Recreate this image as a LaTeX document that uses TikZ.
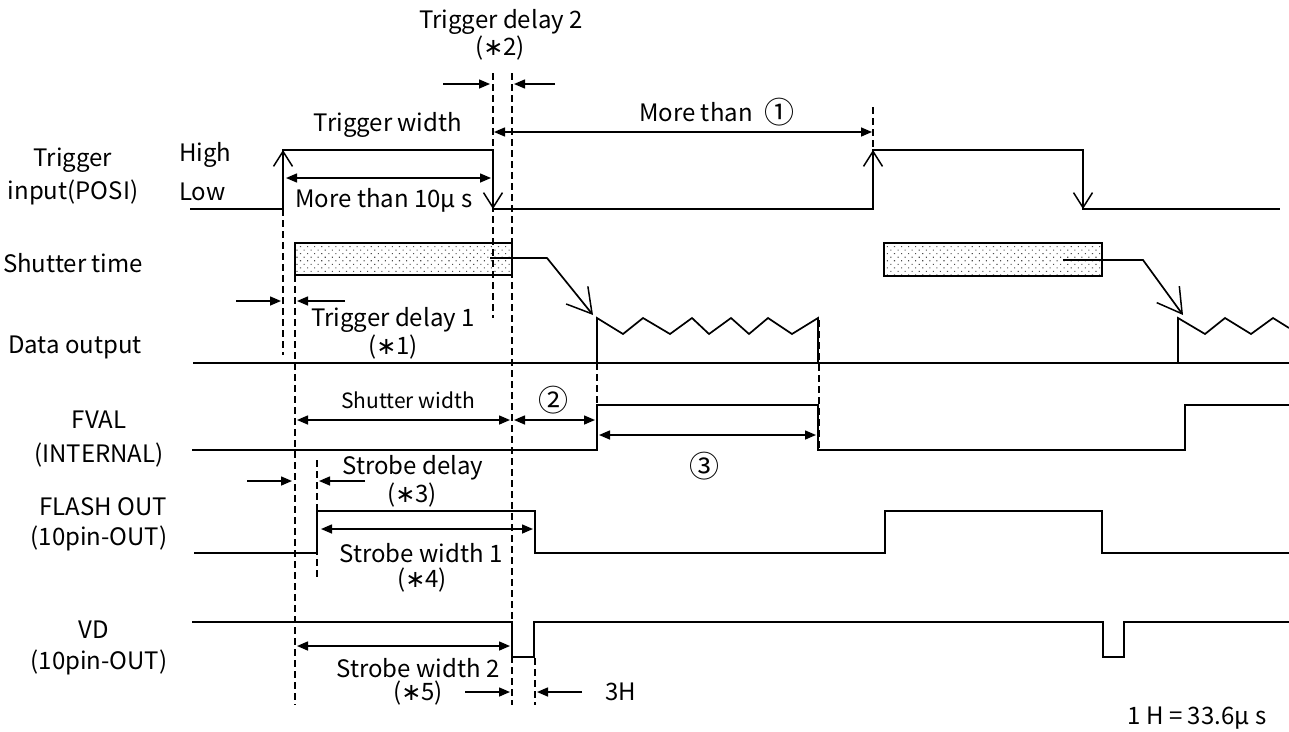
\documentclass[tikz,border=0pt]{standalone}
\usepackage{fontspec}
\setmainfont{Noto Sans CJK JP}
\newfontfamily\djv{DejaVu Sans}
\usetikzlibrary{arrows.meta,patterns.meta}
\newcommand{\stx}{{\djv ∗}}
\newcommand{\cnum}[1]{\raisebox{-0.08em}{\scalebox{1.25}{#1}}}
\begin{document}
\begin{tikzpicture}[x=1pt,y=-1pt,
  every node/.style={font=\fontsize{24}{28}\selectfont, inner sep=0pt},
  small/.style={font=\fontsize{21}{24}\selectfont},
  sig/.style={line width=1.7pt, line join=miter},
  edge/.style={line width=1.7pt, -{Straight Barb[length=15pt,width=19pt,line width=1.5pt]}},
  bigarr/.style={line width=1.7pt, -{Straight Barb[length=24pt,width=28pt,line width=1.5pt]}},
  dim/.style={line width=1.5pt, {Triangle[length=11pt,width=9pt]}-{Triangle[length=11pt,width=9pt]}},
  onearr/.style={line width=1.5pt, -{Triangle[length=11pt,width=9pt]}},
  dsh/.style={line width=1.5pt, dash pattern=on 7pt off 4pt},
  shut/.style={line width=1.7pt, pattern={Dots[distance=5pt,angle=45,radius=0.75pt]}, pattern color=black!70}
]
\useasboundingbox (0,0) rectangle (1289,731);

% ---------- dashed reference lines ----------
\draw[dsh] (283,209) -- (283,355);
\draw[dsh] (295,275) -- (295,705);
\draw[dsh] (317,460) -- (317,580);
\draw[dsh] (493,73) -- (493,318);
\draw[dsh] (512,73) -- (512,705);
\draw[dsh] (535,658) -- (535,705);
\draw[dsh] (597,363) -- (597,405);
\draw[dsh] (819,320) -- (819,450);
\draw[dsh] (873,107) -- (873,150);

% ---------- row labels ----------
\node (lt1) at (73,160) {Trigger};
\node (lt2) at (73,192) {input(POSI)};
\node (lhigh) [anchor=west] at (179,155) {High};
\node (llow) [anchor=west] at (179,192) {Low};
\node (lsh) at (73,263) {Shutter time};
\node (ldo) at (75,347) {Data output};
\node (lfv1) at (99,420) {FVAL};
\node (lfv2) at (99,455) {(INTERNAL)};
\node (lfo1) at (103,507) {FLASH OUT};
\node (lfo2) at (99,538) {(10pin-OUT)};
\node (lvd1) at (94,630) {VD};
\node (lvd2) at (99,662) {(10pin-OUT)};

% ---------- trigger input ----------
\draw[sig] (190,209) -- (283,209) -- (283,150) -- (493,150) -- (493,209) -- (873,209)
  -- (873,150) -- (1083,150) -- (1083,209) -- (1280,209);
\draw[edge] (283,190) -- (283,150);
\draw[edge] (493,170) -- (493,209);
\draw[edge] (873,190) -- (873,150);
\draw[edge] (1083,170) -- (1083,209);

% ---------- shutter time ----------
\draw[shut] (295,243) rectangle (512,275);
\draw[shut] (884,243) rectangle (1102,276);
\draw[bigarr] (490,258) -- (547,258) -- (593,315);
\draw[bigarr] (1063,260) -- (1143,260) -- (1183,315);

% ---------- data output ----------
\draw[sig] (193,363) -- (1289,363);
\draw[sig] (597,363) -- (597,318) -- (623,334) -- (643,318) -- (670,334) -- (692,318)
  -- (709,334) -- (731,318) -- (749,334) -- (768,318) -- (792,334) -- (818,318) -- (818,363);
\draw[sig] (1178,363) -- (1178,318) -- (1205,334) -- (1225,318) -- (1251,334) -- (1273,318) -- (1289,328);

% ---------- FVAL ----------
\draw[sig] (192,450) -- (597,450) -- (597,405) -- (818,405) -- (818,450) -- (1185,450)
  -- (1185,405) -- (1289,405);

% ---------- FLASH OUT ----------
\draw[sig] (194,553) -- (317,553) -- (317,511) -- (535,511) -- (535,553) -- (885,553)
  -- (885,511) -- (1102,511) -- (1102,553) -- (1289,553);

% ---------- VD ----------
\draw[sig] (192,622) -- (512,622) -- (512,657) -- (534,657) -- (534,622) -- (1103,622)
  -- (1103,657) -- (1124,657) -- (1124,622) -- (1289,622);

% ---------- dimension arrows ----------
\draw[onearr] (443,84) -- (490,84);
\draw[onearr] (555,84) -- (514,84);
\draw[dim] (494,132) -- (872,132);
\draw[dim] (286,178) -- (491,178);
\draw[onearr] (236,301) -- (281,301);
\draw[onearr] (345,301) -- (297,301);
\draw[dim] (297,420) -- (510,420);
\draw[dim] (514,420) -- (595,420);
\draw[dim] (599,435) -- (816,435);
\draw[onearr] (247,481) -- (292,481);
\draw[onearr] (365,481) -- (319,481);
\draw[dim] (321,529) -- (533,529);
\draw[dim] (297,646) -- (510,646);
\draw[onearr] (465,692) -- (510,692);
\draw[onearr] (582,692) -- (537,692);

% ---------- annotation texts ----------
\node (td2a) at (501,22) {Trigger delay 2};
\node (td2b) at (500,48) {(\stx2)};
\node (tw) at (388,125) {Trigger width};
\node (m1) at (717,112) {More than \;\cnum{①}};
\node (m10) at (384,200) {More than 10μ s};
\node (td1a) at (393,320) {Trigger delay 1};
\node (td1b) at (393,347) {(\stx1)};
\node[small] (sw) at (408,400) {Shutter width};
\node (c2) at (553,400) {\cnum{②}};
\node (c3) at (704,466) {\cnum{③}};
\node (sda) at (413,468) {Strobe delay};
\node (sdb) at (412,495) {(\stx3)};
\node (sw1a) at (421,553) {Strobe width 1};
\node (sw1b) at (422,580) {(\stx4)};
\node (sw2a) at (418,668) {Strobe width 2};
\node (sw2b) at (418,693) {(\stx5)};
\node (h3) [anchor=west] at (605,692) {3H};
\node (oneh) at (1197,718) {1 H = 33.6μ s};
\end{tikzpicture}
\end{document}
